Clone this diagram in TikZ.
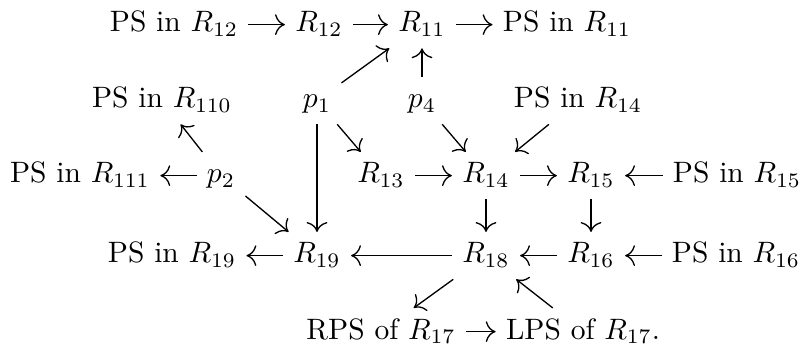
\documentclass[tikz,border=0pt]{standalone}
\usetikzlibrary{arrows.meta,cd}
\begin{document}
\begin{tikzpicture}[x=0.339pt,y=-0.339pt,
  obj/.style={anchor=base, inner sep=0.3333em, text height=7pt, text depth=2pt},
  arr/.style={-{tikzcd to[scale=1.2]}, line width=0.45pt}]
\useasboundingbox (0,0) rectangle (804,353);
\node[obj] (ps12) at (174,32) {PS in $R_{12}$};
\node[obj] (r12) at (319,32) {$R_{12}$};
\node[obj] (r11) at (422,32) {$R_{11}$};
\node[obj] (ps11) at (567,32) {PS in $R_{11}$};
\node[obj] (ps110) at (162,108) {PS in $R_{110}$};
\node[obj] (p1) at (317,108) {$p_1$};
\node[obj] (p4) at (422,108) {$p_4$};
\node[obj] (ps14) at (578,108) {PS in $R_{14}$};
\node[obj] (ps111) at (80,183) {PS in $R_{111}$};
\node[obj] (p2) at (221,183) {$p_2$};
\node[obj] (r13) at (381,183) {$R_{13}$};
\node[obj] (r14) at (486,183) {$R_{14}$};
\node[obj] (r15) at (591,183) {$R_{15}$};
\node[obj] (ps15) at (737,183) {PS in $R_{15}$};
\node[obj] (ps19) at (172,263) {PS in $R_{19}$};
\node[obj] (r19) at (317,263) {$R_{19}$};
\node[obj] (r18) at (486,263) {$R_{18}$};
\node[obj] (r16) at (591,263) {$R_{16}$};
\node[obj] (ps16) at (736,263) {PS in $R_{16}$};
\node[obj] (rps) at (381,339) {RPS of $R_{17}$};
\node[obj] (lps) at (583,339) {LPS of $R_{17}$.};
\draw[arr] (ps12) -- (r12);
\draw[arr] (r12) -- (r11);
\draw[arr] (r11) -- (ps11);
\draw[arr] (p1) -- (r11);
\draw[arr] (p4) -- (r11);
\draw[arr] (p1) -- (r13);
\draw[arr] (p1) -- (r19);
\draw[arr] (p4) -- (r14);
\draw[arr] (ps14) -- (r14);
\draw[arr] (p2) -- (ps110);
\draw[arr] (p2) -- (ps111);
\draw[arr] (p2) -- (r19);
\draw[arr] (r13) -- (r14);
\draw[arr] (r14) -- (r15);
\draw[arr] (ps15) -- (r15);
\draw[arr] (r14) -- (r18);
\draw[arr] (r15) -- (r16);
\draw[arr] (r19) -- (ps19);
\draw[arr] (r18) -- (r19);
\draw[arr] (r16) -- (r18);
\draw[arr] (ps16) -- (r16);
\draw[arr] (r18) -- (rps);
\draw[arr] (rps) -- (lps);
\draw[arr] (lps) -- (r18);
\end{tikzpicture}
\end{document}
